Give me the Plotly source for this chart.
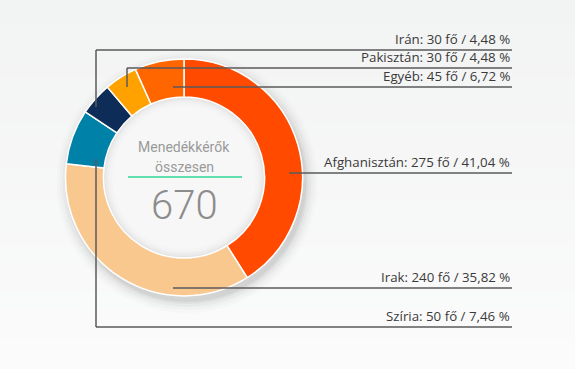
import plotly.graph_objects as go

W, H = 575, 369

# ---- data ----
countries = ["Afghanisztán", "Irak", "Szíria", "Irán", "Pakisztán", "Egyéb"]
people = [275, 240, 50, 30, 30, 45]
percents = ["41,04", "35,82", "7,46", "4,48", "4,48", "6,72"]
total_label = "670"
center_title = ["Menedékkérők", "összesen"]

# ---- styles ----
colors = ["#FF4A00", "#F8C88F", "#0082A8", "#0E2C58", "#FFA200", "#FF6600"]
line_color = "#5a5a5a"
text_color = "#3a3a3a"

# layout (pixel) for leader lines: anchor points and label line levels
cx, cy, r_out = 184, 177.5, 118.5
hole = 0.68
label_right = 512
leaders = {
    "Afghanisztán": [(289, 173), (label_right, 173)],
    "Irak": [(173, 288), (label_right, 288)],
    "Szíria": [(96, 159), (96, 327), (label_right, 327)],
    "Irán": [(96, 107), (96, 50), (label_right, 50)],
    "Pakisztán": [(127, 87), (127, 68), (label_right, 68)],
    "Egyéb": [(173, 87), (label_right, 87)],
}


def px(x):
    return x / W


def py(y):
    return 1 - y / H


fig = go.Figure()
fig.add_trace(go.Pie(
    labels=countries, values=people, sort=False, direction="clockwise", rotation=0,
    hole=hole, marker=dict(colors=colors, line=dict(color="white", width=1.5)),
    textinfo="none", hoverinfo="label+value", showlegend=False,
    domain=dict(x=[px(cx - r_out), px(cx + r_out)], y=[py(cy + r_out), py(cy - r_out)]),
))

shapes = []
# background vertical gradient (top slightly darker, bottom near white)
bands = 24
c_top, c_bot = (242, 243, 243), (251, 251, 251)
for i in range(bands):
    t = i / (bands - 1)
    c = tuple(round(a + (b - a) * t) for a, b in zip(c_top, c_bot))
    shapes.append(dict(type="rect", xref="paper", yref="paper", layer="below",
                       x0=0, x1=1, y0=1 - (i + 1) / bands - 0.002, y1=1 - i / bands,
                       fillcolor=f"rgb{c}", line=dict(width=0)))
# soft drop shadow behind donut
for extra, op in [(12, 0.015), (9, 0.02), (6, 0.03), (3, 0.04), (1, 0.05)]:
    shapes.append(dict(type="circle", xref="paper", yref="paper", layer="below",
                       x0=px(cx - r_out - extra + 3), x1=px(cx + r_out + extra + 3),
                       y0=py(cy + r_out + extra + 5), y1=py(cy - r_out - extra + 5),
                       fillcolor=f"rgba(0,0,0,{op})", line=dict(width=0)))
# inner disk with inset shading
r_in = r_out * hole
for dr, col in [(0, "#e4e4e4"), (2, "#ebebeb"), (4, "#f0f0f0"), (6, "#f4f4f4"), (9, "#f7f7f7")]:
    shapes.append(dict(type="circle", xref="paper", yref="paper", layer="below",
                       x0=px(cx - r_in + dr), x1=px(cx + r_in - dr),
                       y0=py(cy + r_in - dr), y1=py(cy - r_in + dr),
                       fillcolor=col, line=dict(width=0)))

annotations = []
for name, val, pct in zip(countries, people, percents):
    pts = leaders[name]
    for (x0, y0), (x1, y1) in zip(pts[:-1], pts[1:]):
        shapes.append(dict(type="line", xref="paper", yref="paper",
                           x0=px(x0), y0=py(y0), x1=px(x1), y1=py(y1),
                           line=dict(color=line_color, width=1.5)))
    ly = pts[-1][1]
    annotations.append(dict(text=f"{name}: {val} fő / {pct} %", xref="paper", yref="paper",
                            x=px(label_right), y=py(ly), xanchor="right", yanchor="bottom",
                            showarrow=False,
                            font=dict(family="Open Sans", size=13.3, color=text_color)))

# center texts
annotations.append(dict(text=center_title[0], xref="paper", yref="paper", x=px(cx), y=py(147),
                        xanchor="center", yanchor="middle", showarrow=False,
                        font=dict(family="Roboto", size=14, color="#9a9a9a")))
annotations.append(dict(text=center_title[1], xref="paper", yref="paper", x=px(cx), y=py(167),
                        xanchor="center", yanchor="middle", showarrow=False,
                        font=dict(family="Roboto", size=14, color="#9a9a9a")))
annotations.append(dict(text=total_label, xref="paper", yref="paper", x=px(cx), y=py(205),
                        xanchor="center", yanchor="middle", showarrow=False,
                        font=dict(family="Roboto", size=40, color="#8c8c8c", weight=300)))
shapes.append(dict(type="line", xref="paper", yref="paper", x0=px(128), x1=px(242),
                   y0=py(177), y1=py(177), line=dict(color="#5fe0b0", width=2)))

fig.update_layout(width=W, height=H, margin=dict(l=0, r=0, t=0, b=0),
                  paper_bgcolor="#f5f6f6", plot_bgcolor="#f5f6f6",
                  shapes=shapes, annotations=annotations)
fig.write_html("out.html", config={"displayModeBar": False},
               post_script="document.body.style.margin='0';document.body.style.overflow='hidden';")
